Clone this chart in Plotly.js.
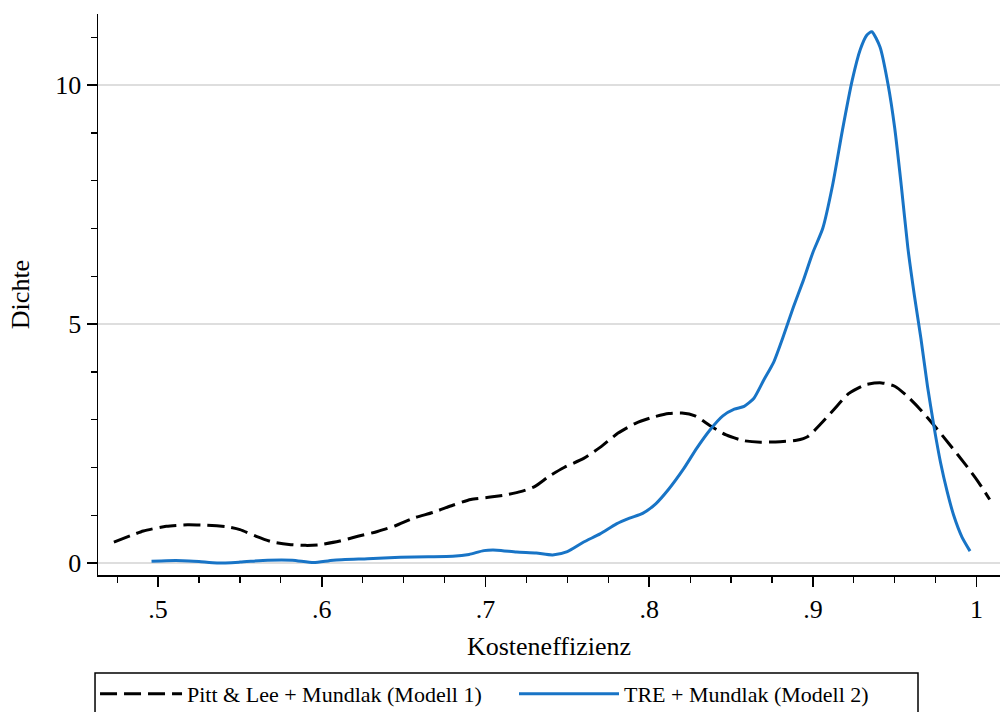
<!DOCTYPE html>
<html>
<head>
<meta charset="utf-8">
<script src="https://cdn.plot.ly/plotly-3.0.1.min.js"></script>
<style>
  html, body { margin: 0; padding: 0; background: #ffffff; }
  #chart { width: 1000px; height: 712px; }
</style>
</head>
<body>
<div id="chart"></div>
<script>
// Series names
const seriesNames = ["Pitt & Lee + Mundlak (Modell 1)", "TRE + Mundlak (Modell 2)"];

// Pitt & Lee + Mundlak (Modell 1) density
const plX = [0.473, 0.483, 0.491, 0.505, 0.518, 0.530, 0.542, 0.550, 0.560, 0.570, 0.580, 0.590, 0.598, 0.611, 0.622, 0.634, 0.645, 0.656, 0.668, 0.680, 0.691, 0.703, 0.713, 0.722, 0.730, 0.739, 0.748, 0.760, 0.770, 0.781, 0.792, 0.803, 0.812, 0.820, 0.828, 0.837, 0.847, 0.858, 0.868, 0.880, 0.890, 0.897, 0.905, 0.913, 0.922, 0.932, 0.942, 0.950, 0.958, 0.966, 0.975, 0.984, 0.993, 1.001, 1.008];
const plY = [0.44, 0.57, 0.67, 0.77, 0.80, 0.79, 0.76, 0.70, 0.56, 0.44, 0.39, 0.37, 0.38, 0.46, 0.56, 0.66, 0.78, 0.94, 1.06, 1.21, 1.33, 1.38, 1.43, 1.50, 1.60, 1.82, 2.00, 2.19, 2.42, 2.72, 2.93, 3.06, 3.13, 3.14, 3.08, 2.88, 2.68, 2.56, 2.53, 2.54, 2.57, 2.65, 2.92, 3.22, 3.55, 3.73, 3.77, 3.70, 3.48, 3.20, 2.84, 2.46, 2.07, 1.70, 1.33];

// TRE + Mundlak (Modell 2) density
const treX = [0.496, 0.505, 0.515, 0.525, 0.536, 0.550, 0.567, 0.582, 0.595, 0.607, 0.628, 0.648, 0.665, 0.680, 0.690, 0.699, 0.707, 0.719, 0.731, 0.741, 0.750, 0.760, 0.770, 0.780, 0.788, 0.796, 0.804, 0.812, 0.821, 0.829, 0.837, 0.845, 0.852, 0.858, 0.864, 0.870, 0.876, 0.882, 0.888, 0.894, 0.900, 0.906, 0.912, 0.918, 0.924, 0.929, 0.933, 0.936, 0.941, 0.946, 0.950, 0.954, 0.958, 0.962, 0.966, 0.970, 0.974, 0.978, 0.982, 0.986, 0.991, 0.996];
const treY = [0.04, 0.05, 0.05, 0.03, 0.00, 0.02, 0.06, 0.06, 0.01, 0.06, 0.09, 0.12, 0.13, 0.14, 0.18, 0.26, 0.27, 0.23, 0.21, 0.17, 0.24, 0.44, 0.61, 0.82, 0.94, 1.04, 1.24, 1.55, 1.97, 2.40, 2.78, 3.08, 3.22, 3.28, 3.45, 3.83, 4.20, 4.75, 5.35, 5.90, 6.50, 7.00, 7.90, 9.05, 10.10, 10.75, 11.05, 11.12, 10.80, 10.00, 9.10, 7.90, 6.60, 5.60, 4.70, 3.70, 2.85, 2.10, 1.50, 1.00, 0.55, 0.25];

// Axis tick labels
const xTickVals = [0.5, 0.6, 0.7, 0.8, 0.9, 1.0];
const xTickText = [".5", ".6", ".7", ".8", ".9", "1"];
const yTickVals = [0, 5, 10];
const yTickText = ["0", "5", "10"];

const FONT = "Liberation Serif, Times New Roman, serif";

const traces = [
  {
    x: plX, y: plY, type: "scatter", mode: "lines", name: seriesNames[0], legend: "legend",
    line: { color: "#000000", width: 3, dash: "17px,7px", shape: "spline", smoothing: 0.6 }
  },
  {
    x: treX, y: treY, type: "scatter", mode: "lines", name: seriesNames[1], legend: "legend2",
    line: { color: "#1874c6", width: 3, shape: "spline", smoothing: 0.6 }
  }
];

const legendFont = { family: FONT, size: 22, color: "#000000" };

const layout = {
  width: 1000, height: 712,
  paper_bgcolor: "#ffffff", plot_bgcolor: "#ffffff",
  margin: { l: 98, r: 0, t: 14, b: 137, autoexpand: false },
  font: { family: FONT, color: "#000000", size: 22 },
  showlegend: true,
  xaxis: {
    range: [0.4633, 1.0143],
    tickmode: "array", tickvals: xTickVals, ticktext: xTickText,
    ticks: "outside", ticklen: 10, tickwidth: 1.5, tickcolor: "#000000",
    minor: { tickmode: "linear", tick0: 0.475, dtick: 0.025, ticks: "outside", ticklen: 6, tickwidth: 1.2, tickcolor: "#000000", showgrid: false },
    showline: true, linecolor: "#000000", linewidth: 1.5,
    showgrid: false, zeroline: false,
    tickfont: { family: FONT, size: 26, color: "#000000" },
    title: { text: "Kosteneffizienz", font: { family: FONT, size: 26, color: "#000000" }, standoff: 14 }
  },
  yaxis: {
    range: [-0.25, 11.49],
    tickmode: "array", tickvals: yTickVals, ticktext: yTickText,
    ticks: "outside", ticklen: 10, tickwidth: 1.5, tickcolor: "#000000",
    minor: { tickmode: "linear", tick0: 0, dtick: 1, ticks: "outside", ticklen: 6, tickwidth: 1.2, tickcolor: "#000000", showgrid: false },
    showline: true, linecolor: "#000000", linewidth: 1.5,
    showgrid: true, gridcolor: "#dedede", gridwidth: 2,
    zeroline: false,
    tickfont: { family: FONT, size: 26, color: "#000000" },
    title: { text: "Dichte", font: { family: FONT, size: 26, color: "#000000" }, standoff: 18 }
  },
  legend: {
    orientation: "h",
    x: -0.0033, xanchor: "left",
    y: -0.1747, yanchor: "top",
    borderwidth: 0, bgcolor: "rgba(0,0,0,0)",
    font: legendFont,
    itemwidth: 82
  },
  legend2: {
    orientation: "h",
    x: (514 - 98) / 902, xanchor: "left",
    y: -0.1747, yanchor: "top",
    borderwidth: 0, bgcolor: "rgba(0,0,0,0)",
    font: legendFont,
    itemwidth: 100
  },
  shapes: [
    {
      type: "rect", xref: "paper", yref: "paper",
      x0: -0.0033, x1: (918 - 98) / 902,
      y0: -0.1747, y1: -0.30,
      line: { color: "#000000", width: 1.5 },
      fillcolor: "rgba(0,0,0,0)", layer: "below"
    }
  ]
};

Plotly.newPlot("chart", traces, layout, { displayModeBar: false, staticPlot: true });
</script>
</body>
</html>
